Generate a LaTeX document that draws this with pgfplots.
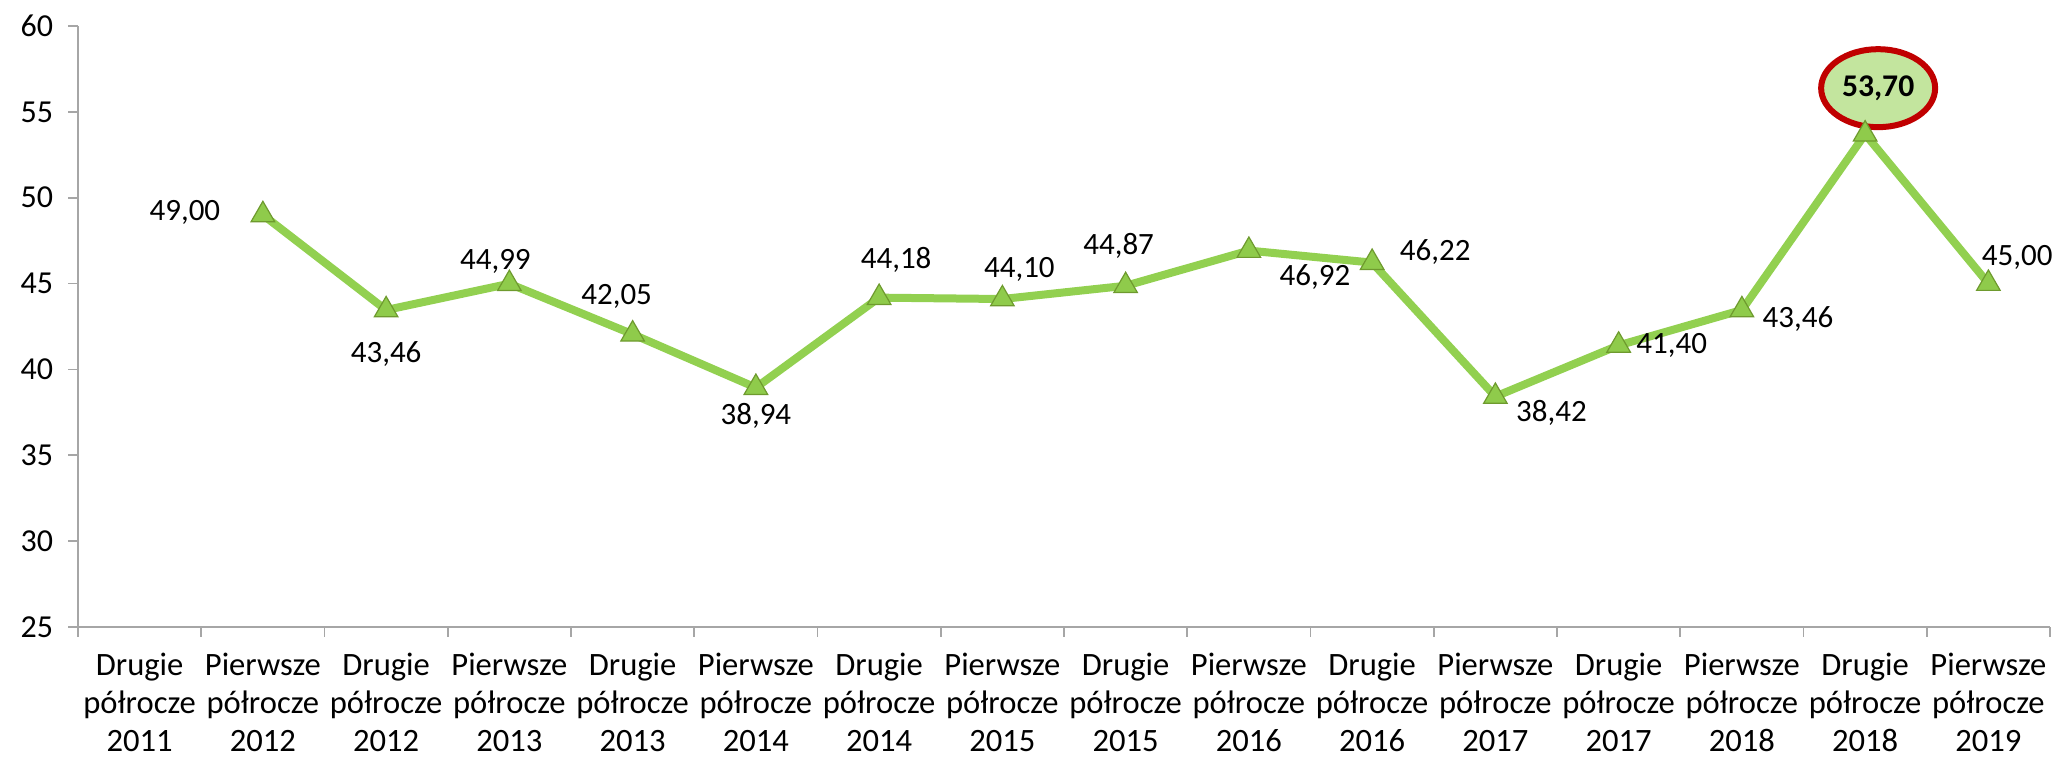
\documentclass[border=0pt]{standalone}
\usepackage{pgfplots}
\pgfplotsset{compat=1.18}
\usepackage{pgfplotstable}
\usepackage{fontspec}
\setmainfont{Carlito}
\usetikzlibrary{shapes.geometric}
\definecolor{lineg}{HTML}{92D050}
\definecolor{markf}{HTML}{8FCB4B}
\definecolor{marke}{HTML}{6E9A2E}
\definecolor{ellf}{HTML}{C3E59E}
\definecolor{ellb}{HTML}{C00000}
\definecolor{axg}{HTML}{A6A6A6}
\pgfplotstableread{
x y dx dy lbl
1 49.00 -39 1.3 49,00
2 43.46 0 -22 43,46
3 44.99 -7 11 44,99
4 42.05 -8 19 42,05
5 38.94 0 -14 38,94
6 44.18 8.5 19 44,18
7 44.10 8.5 15 44,10
8 44.87 -3.5 20 44,87
9 46.92 33 -13.3 46,92
10 46.22 31.5 5.5 46,22
11 38.42 28 -8 38,42
12 41.40 26.5 0 41,40
13 43.46 28 -4.6 43,46
14 53.70 0 0 {}
15 45.00 14.4 13 45,00
}\datatable
\begin{document}
\begin{tikzpicture}
\begin{axis}[
  scale only axis, width=986pt, height=300.5pt,
  xmin=-0.5, xmax=15.5, ymin=25, ymax=60,
  clip=false,
  axis x line*=bottom, axis y line*=left,
  axis line style={draw=axg, line width=0.8pt},
  tick align=outside, major tick length=5pt,
  tick style={draw=axg, line width=0.8pt},
  ytick={25,30,...,60},
  yticklabel style={font=\fontsize{16}{19}\selectfont, inner sep=0pt, xshift=-7.3pt},
  /pgf/number format/assume math mode=true,
  xtick={-0.5,0.5,...,15.5}, xticklabels={},
  extra x ticks={0,...,15},
  extra x tick labels={{Drugie\\półrocze\\2011},{Pierwsze\\półrocze\\2012},{Drugie\\półrocze\\2012},{Pierwsze\\półrocze\\2013},{Drugie\\półrocze\\2013},{Pierwsze\\półrocze\\2014},{Drugie\\półrocze\\2014},{Pierwsze\\półrocze\\2015},{Drugie\\półrocze\\2015},{Pierwsze\\półrocze\\2016},{Drugie\\półrocze\\2016},{Pierwsze\\półrocze\\2017},{Drugie\\półrocze\\2017},{Pierwsze\\półrocze\\2018},{Drugie\\półrocze\\2018},{Pierwsze\\półrocze\\2019}},
  extra x tick style={major tick length=0pt, tick style={draw=none},
    xticklabel style={align=center, font=\fontsize{16.3}{19}\selectfont, anchor=north, inner sep=0pt, yshift=-13pt}},
]
\coordinate (bl) at (rel axis cs:0,0);
\coordinate (tr) at (rel axis cs:1,1);
\addplot[draw=none, mark=none, nodes near coords={\textbf{53,70}},
  every node near coord/.style={ellipse, draw=ellb, fill=ellf, line width=3pt,
    minimum width=57pt, minimum height=39pt, inner sep=0pt, anchor=center,
    xshift=6.5pt, yshift=23pt, font=\fontsize{15.8}{18}\selectfont}]
  coordinates {(14,53.70)};
\addplot[lineg, line width=4pt, mark=triangle*,
  mark options={fill=markf, draw=marke, line width=0.6pt, mark size=6.8pt},
  point meta=explicit symbolic,
  visualization depends on={\thisrow{dx} \as \dx},
  visualization depends on={\thisrow{dy} \as \dy},
  nodes near coords,
  every node near coord/.style={anchor=center, xshift=\dx pt, yshift=\dy pt,
    font=\fontsize{15.5}{18}\selectfont, text=black}]
  table[x=x, y=y, meta=lbl] {\datatable};
\end{axis}
\pgfresetboundingbox
\path ([shift={(-39pt,-65pt)}]bl) rectangle ([shift={(2pt,13pt)}]tr);
\end{tikzpicture}
\end{document}
